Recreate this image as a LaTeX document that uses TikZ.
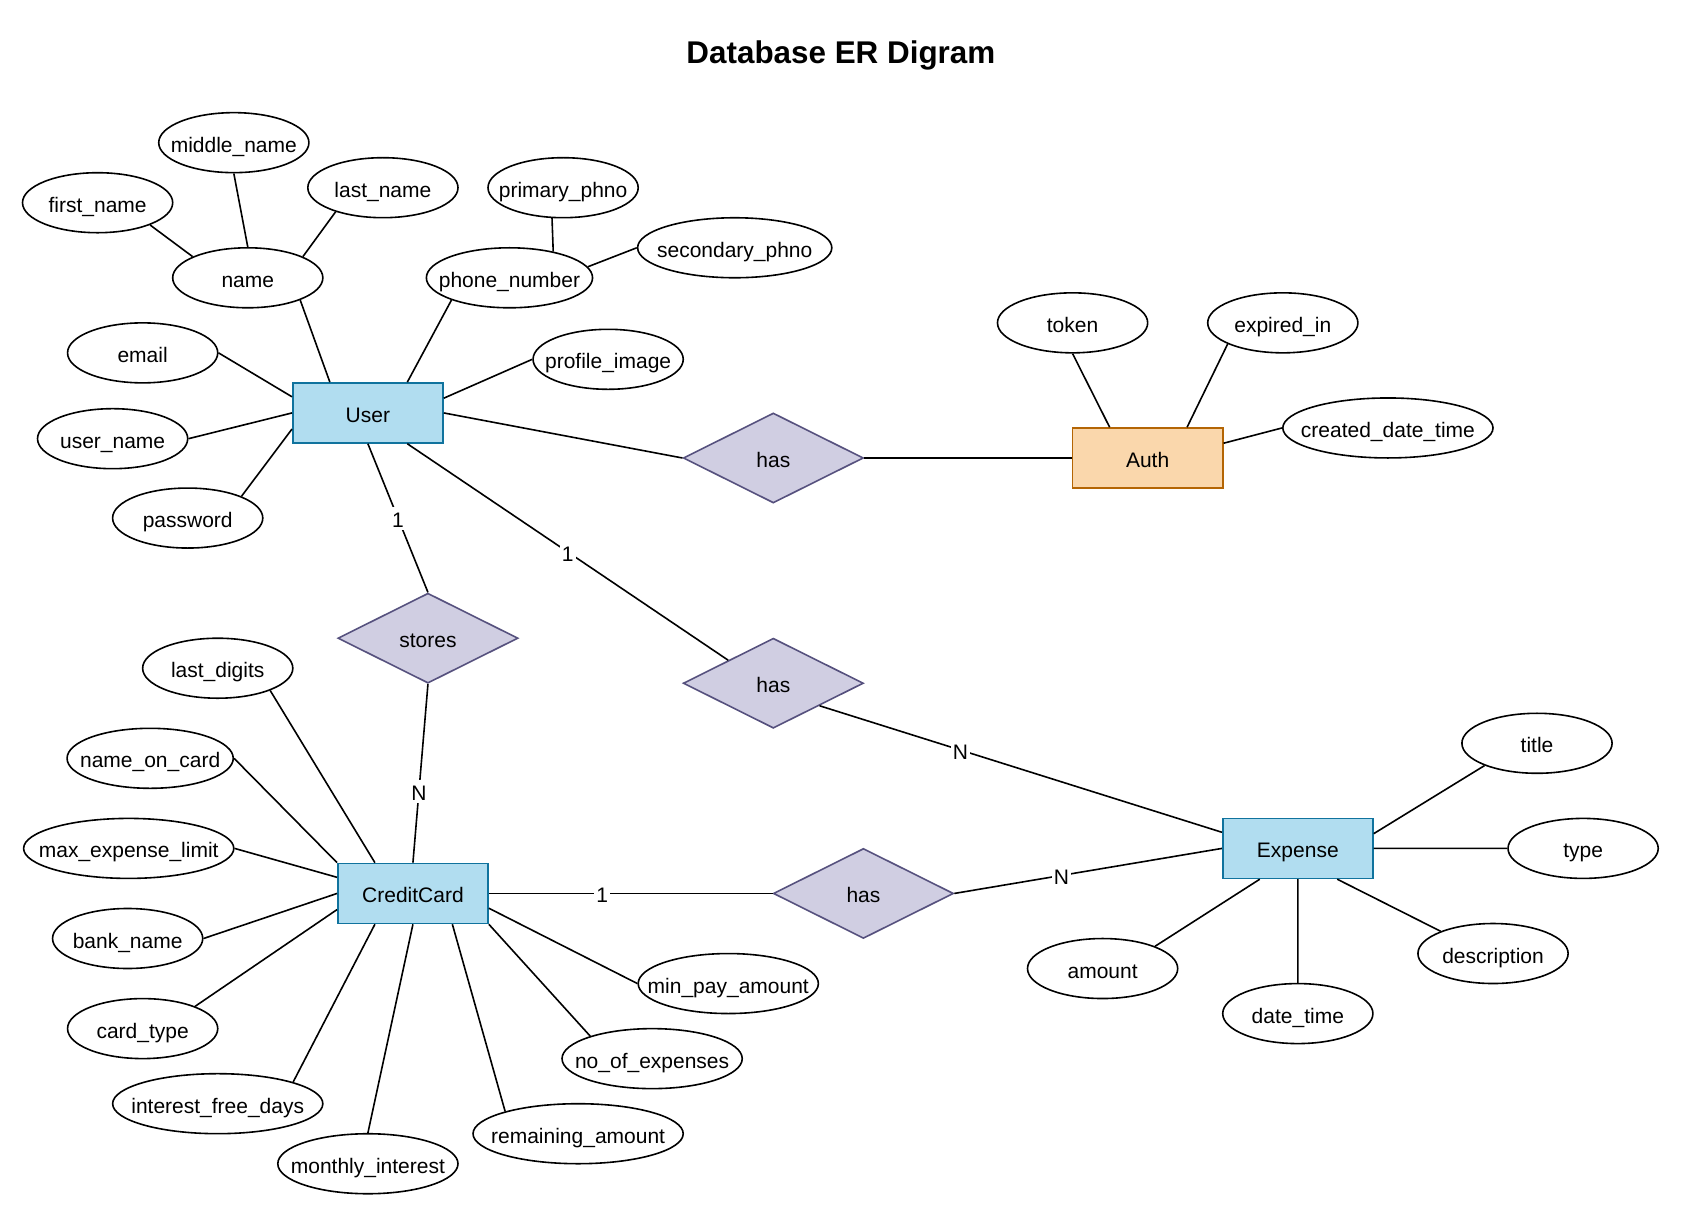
\documentclass[tikz,border=0pt]{standalone}
\usepackage{fontspec}
\setmainfont{Liberation Sans}
\usepackage{xcolor}
\usetikzlibrary{
    shapes.geometric,
    calc,
    positioning
}
\definecolor{entfill}{HTML}{B1DDF0}
\definecolor{entline}{HTML}{10739E}
\definecolor{authfill}{HTML}{FAD7AC}
\definecolor{authline}{HTML}{B46504}
\definecolor{relfill}{HTML}{D0CEE2}
\definecolor{relline}{HTML}{56517E}

\begin{document}
\begin{tikzpicture}[x=0.5363pt, y=-0.5363pt, line width=0.8pt,
    every node/.style={font=\fontsize{10.5}{12}\selectfont, text height=9.5pt, text depth=0pt},
    entity/.style={rectangle, draw=entline, fill=entfill, minimum width=75.1pt, minimum height=30pt, inner sep=0pt},
    attrib/.style={ellipse, draw, fill=white, minimum width=75.1pt, minimum height=30pt, inner ysep=0pt, inner xsep=-60pt},
    relation/.style={diamond, draw=relline, fill=relfill, minimum width=90.1pt, minimum height=45pt, inner sep=0pt},
    card/.style={fill=white, inner sep=1pt}]
                        \useasboundingbox (0, 0) rectangle (1568.2, 1134.6);
                        \node[font=\fontsize{15.7}{18}\selectfont\bfseries] (head) at (784, 50) {Database ER Digram};

                        % entities and relations
                        \node[entity] (user) at (343, 385) {User};
                        \node[entity, draw=authline, fill=authfill] (auth) at (1070, 427) {Auth};
                        \node[entity] (cc) at (385, 833) {CreditCard};
                        \node[entity] (expense) at (1210, 791) {Expense};
                        \node[relation] (userauth) at (721, 427) {has};
                        \node[relation] (stores) at (399, 595) {stores};
                        \node[relation] (userexp) at (721, 637) {has};
                        \node[relation] (cardexp) at (805, 833) {has};

                        % user
                        \node[attrib] (firstname) at (91, 189) {first\_name};
                        \node[attrib] (middlename) at (218, 133) {middle\_name};
                        \node[attrib] (lastname) at (357, 175) {last\_name};
                        \node[attrib] (name) at (231, 259) {name};
                        \node[attrib] (primary) at (525, 175) {primary\_phno};
                        \node[attrib, minimum width=97.1pt] (secondary) at (685, 231) {secondary\_phno};
                        \node[attrib, minimum width=83.1pt] (phone) at (475, 259) {phone\_number};
                        \node[attrib] (email) at (133, 329) {email};
                        \node[attrib] (profile) at (567, 335) {profile\_image};
                        \node[attrib] (username) at (105, 409) {user\_name};
                        \node[attrib] (password) at (175, 483) {password};

                        % auth
                        \node[attrib] (token) at (1000, 301) {token};
                        \node[attrib] (expired) at (1196, 301) {expired\_in};
                        \node[attrib, minimum width=105.1pt] (created) at (1294, 399) {created\_date\_time};

                        % credit card
                        \node[attrib] (lastdigits) at (203, 623) {last\_digits};
                        \node[attrib, minimum width=83.1pt] (nameoncard) at (140, 707) {name\_on\_card};
                        \node[attrib, minimum width=105.1pt] (maxlimit) at (120, 791) {max\_expense\_limit};
                        \node[attrib] (bankname) at (119, 875) {bank\_name};
                        \node[attrib] (cardtype) at (133, 959) {card\_type};
                        \node[attrib, minimum width=105.1pt] (freedays) at (203, 1029) {interest\_free\_days};
                        \node[attrib, minimum width=90.1pt] (monthly) at (343, 1085) {monthly\_interest};
                        \node[attrib, minimum width=105.1pt] (remaining) at (539, 1057) {remaining\_amount};
                        \node[attrib, minimum width=90.1pt] (noexpenses) at (608, 987) {no\_of\_expenses};
                        \node[attrib, minimum width=90.1pt] (minpay) at (679, 917) {min\_pay\_amount};

                        % expense
                        \node[attrib] (title) at (1433, 693) {title};
                        \node[attrib] (type) at (1476, 791) {type};
                        \node[attrib] (description) at (1392, 889) {description};
                        \node[attrib] (datetime) at (1210, 945) {date\_time};
                        \node[attrib] (amount) at (1028, 903) {amount};

                        \draw
                        (firstname.-23) -- (name.159)
                        (middlename.south) -- (name.north)
                        (lastname.207) -- (name.21)
                        (name.-23) -- (user.141.3)
                        (primary.250) -- (phone.31)
                        (secondary.west) -- (phone.8)
                        (phone.201.6) -- (user.38.7)
                        (email.east) -- (user.168.7)
                        (profile.west) -- (user.11.3)
                        (username.east) -- (user.west)
                        (password.22) -- (user.-168.7)
                        (user.east) -- (userauth.west)
                        (userauth.east) -- (auth.west)
                        (token.south) -- (auth.141.3)
                        (expired.201) -- (auth.38.7)
                        (created.west) -- (auth.11.3);

                        \draw
                        (cc.141.3) -- (lastdigits.-23.2)
                        (cc.north west) -- (nameoncard.east)
                        (cc.168.7) -- (maxlimit.east)
                        (cc.west) -- (bankname.east)
                        (cc.-168.7) -- (cardtype.23.2)
                        (cc.-141.3) -- (freedays.16.7)
                        (cc.south) -- (monthly.north)
                        (cc.-38.7) -- (remaining.163.3)
                        (cc.south east) -- (noexpenses.160.1)
                        (cc.-11.3) -- (minpay.west);

                        \draw
                        (expense.11.3) -- (title.203.6)
                        (expense.east) -- (type.west)
                        (expense.-38.7) -- (description.157.6)
                        (expense.south) -- (datetime.north)
                        (expense.-141.3) -- (amount.23.2);

                        % cardinalities
                        \draw (user.south) -- node[card] {1} (stores.north);
                        \draw (user.-38.7) -- node[card] {1} (userexp.153.4);
                        \draw (stores.south) -- node[card, pos=0.6] {N} (cc.north);
                        \draw (userexp.-26.6) -- node[card, pos=0.35] {N} (expense.168.7);
                        \draw (cc.east) -- node[card, pos=0.4] {1} (cardexp.west);
                        \draw (cardexp.east) -- node[card, pos=0.4] {N} (expense.west);
                    \end{tikzpicture}
\end{document}
